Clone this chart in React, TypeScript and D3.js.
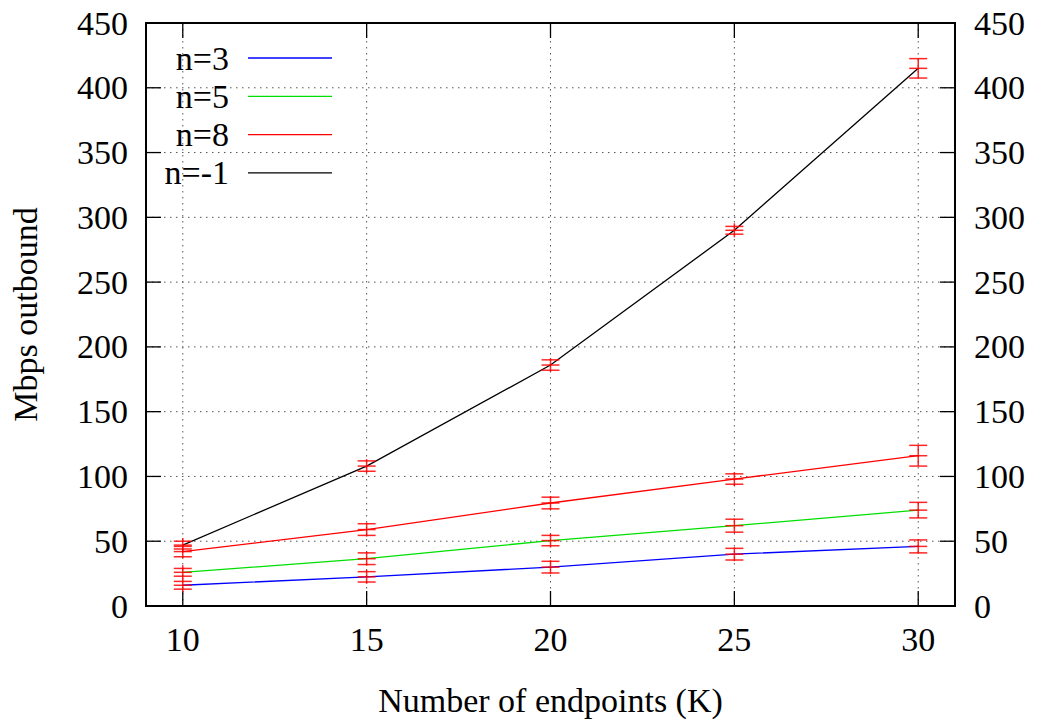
import React, { useEffect, useRef } from "react";
import * as d3 from "d3";

const endpoints = [10, 15, 20, 25, 30];
const seriesNames = ["n=3", "n=5", "n=8", "n=-1"];
const seriesColors = ["#0000ff", "#00e000", "#ff0000", "#000000"];
const n3 = [16, 22.5, 30, 40, 46];
const n5 = [26, 36.5, 50.5, 62, 74];
const n8 = [42, 59, 79.5, 98, 116];
const nm1 = [47, 108, 186, 290, 415];
const n3Err = [3, 4, 4.5, 4.5, 5];
const n5Err = [3, 4.5, 4, 5, 6];
const n8Err = [4, 4.5, 4.5, 4, 8];
const nm1Err = [3, 4, 4, 3, 7.5];
const xTicks = [10, 15, 20, 25, 30];
const yTicks = [0, 50, 100, 150, 200, 250, 300, 350, 400, 450];

export default function App() {
  const ref = useRef<SVGSVGElement>(null);

  useEffect(() => {
    const W = 1038, H = 720;
    const margin = { top: 23, right: 83, bottom: 114, left: 146 };
    const width = W - margin.left - margin.right;
    const height = H - margin.top - margin.bottom;
    const font = "Liberation Serif, DejaVu Serif, serif";
    const fs = "34px";

    const svg = d3.select(ref.current);
    svg.selectAll("*").remove();
    const g = svg.append("g").attr("transform", `translate(${margin.left},${margin.top})`);

    const x = d3.scaleLinear().domain([9, 31]).range([0, width]);
    const y = d3.scaleLinear().domain([0, 450]).range([height, 0]);

    // grid
    const grid = g.append("g").attr("stroke", "#555").attr("stroke-width", 1).attr("stroke-dasharray", "1.5,4.5");
    xTicks.forEach(t => {
      grid.append("line").attr("x1", x(t)).attr("x2", x(t)).attr("y1", 0).attr("y2", height);
    });
    yTicks.filter(t => t > 0 && t < 450).forEach(t => {
      grid.append("line").attr("x1", 0).attr("x2", width).attr("y1", y(t)).attr("y2", y(t));
    });

    // ticks (inward, on all four sides)
    const tk = g.append("g").attr("stroke", "#000").attr("stroke-width", 1.3);
    const tl = 15;
    xTicks.forEach(t => {
      tk.append("line").attr("x1", x(t)).attr("x2", x(t)).attr("y1", height).attr("y2", height - tl);
      tk.append("line").attr("x1", x(t)).attr("x2", x(t)).attr("y1", 0).attr("y2", tl);
    });
    yTicks.forEach(t => {
      tk.append("line").attr("x1", 0).attr("x2", tl).attr("y1", y(t)).attr("y2", y(t));
      tk.append("line").attr("x1", width).attr("x2", width - tl).attr("y1", y(t)).attr("y2", y(t));
    });

    // tick labels
    const lbl = g.append("g").style("font-family", font).style("font-size", fs).attr("fill", "#000");
    xTicks.forEach(t => {
      lbl.append("text").attr("x", x(t)).attr("y", height + 45).attr("text-anchor", "middle").text(t);
    });
    yTicks.forEach(t => {
      lbl.append("text").attr("x", -18).attr("y", y(t)).attr("dy", "0.34em").attr("text-anchor", "end").text(t);
      lbl.append("text").attr("x", width + 19).attr("y", y(t)).attr("dy", "0.34em").attr("text-anchor", "start").text(t);
    });

    // axis titles
    svg.append("text")
      .attr("x", margin.left + x(20)).attr("y", 712)
      .attr("text-anchor", "middle").style("font-family", font).style("font-size", fs)
      .text("Number of endpoints (K)");
    svg.append("text")
      .attr("transform", `translate(37,${margin.top + height / 2}) rotate(-90)`)
      .attr("text-anchor", "middle").style("font-family", font).style("font-size", fs)
      .text("Mbps outbound");

    const values = [n3, n5, n8, nm1];
    const errs = [n3Err, n5Err, n8Err, nm1Err];

    const line = d3.line<number>().x((d, i) => x(endpoints[i])).y(d => y(d));
    values.forEach((v, s) => {
      g.append("path").datum(v).attr("fill", "none").attr("stroke", seriesColors[s])
        .attr("stroke-width", 1.3).attr("d", line);
    });

    // error bars with + points
    const cap = 9;
    const pt = 7;
    const eb = g.append("g").attr("stroke", "#ff0000").attr("stroke-width", 1.5).attr("stroke-opacity", 0.85);
    values.forEach((v, s) => {
      v.forEach((val, i) => {
        const cx = x(endpoints[i]);
        const lo = y(val - errs[s][i]);
        const hi = y(val + errs[s][i]);
        const cy = y(val);
        eb.append("line").attr("x1", cx).attr("x2", cx).attr("y1", Math.min(hi, cy - pt)).attr("y2", Math.max(lo, cy + pt));
        eb.append("line").attr("x1", cx - cap).attr("x2", cx + cap).attr("y1", lo).attr("y2", lo);
        eb.append("line").attr("x1", cx - cap).attr("x2", cx + cap).attr("y1", hi).attr("y2", hi);
        eb.append("line").attr("x1", cx - cap).attr("x2", cx + cap).attr("y1", cy).attr("y2", cy);
      });
    });

    // legend
    const lg = g.append("g").style("font-family", font).style("font-size", fs);
    seriesNames.forEach((name, i) => {
      const ly = 35 + i * 38.3;
      lg.append("text").attr("x", 83).attr("y", ly).attr("dy", "0.34em").attr("text-anchor", "end").text(name);
      lg.append("line").attr("x1", 102).attr("x2", 186).attr("y1", ly).attr("y2", ly)
        .attr("stroke", seriesColors[i]).attr("stroke-width", 1.3);
    });

    // border
    g.append("rect").attr("width", width).attr("height", height)
      .attr("fill", "none").attr("stroke", "#000").attr("stroke-width", 2);
  }, []);

  return (
    <svg ref={ref} width={1038} height={720}
      style={{ position: "absolute", left: 0, top: 0, background: "#fff" }} />
  );
}
